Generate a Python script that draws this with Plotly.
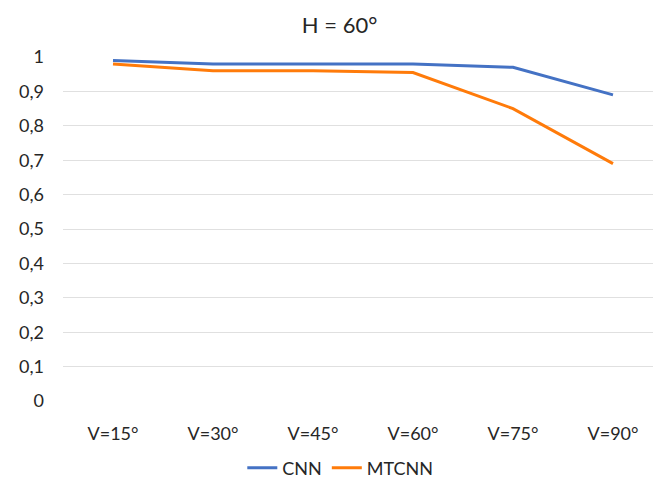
import plotly.graph_objects as go

# Detection rate by vertical angle at a fixed horizontal angle of 60°
categories = ["V=15°", "V=30°", "V=45°", "V=60°", "V=75°", "V=90°"]
cnn = [0.99, 0.98, 0.98, 0.98, 0.97, 0.89]
mtcnn = [0.98, 0.96, 0.96, 0.955, 0.85, 0.69]
y_ticks = [0, 0.1, 0.2, 0.3, 0.4, 0.5, 0.6, 0.7, 0.8, 0.9, 1]

FONT = "Lato"
TEXT = "#262626"

fig = go.Figure()
fig.add_trace(go.Scatter(x=categories, y=cnn, name="CNN", mode="lines",
                         line=dict(color="#4472C4", width=3)))
fig.add_trace(go.Scatter(x=categories, y=mtcnn, name="MTCNN", mode="lines",
                         line=dict(color="#FF7B0A", width=3)))

fig.update_layout(
    width=653, height=479,
    margin=dict(l=63, r=0, t=57, b=78, autoexpand=False),
    paper_bgcolor="white", plot_bgcolor="white",
    separators=", ",
    font=dict(family=FONT, size=18, color=TEXT),
    title=dict(text="H = 60°", x=0.52, xanchor="center", y=0.948, yanchor="middle",
               font=dict(family=FONT, size=22, color=TEXT)),
    showlegend=True,
    legend=dict(orientation="h", x=0.47, xanchor="center", y=-0.195, yanchor="middle",
                font=dict(family=FONT, size=18, color=TEXT),
                itemwidth=30, tracegroupgap=0),
    xaxis=dict(type="category", range=[-0.5, 5.4], showgrid=False, showline=False,
               ticks="", ticklabelstandoff=20, tickfont=dict(size=18), automargin=False),
    yaxis=dict(range=[0, 1], tickvals=y_ticks, showgrid=True, gridcolor="#E0E0E0",
               gridwidth=1, zeroline=False, showline=False, ticks="",
               ticklabelstandoff=18, tickfont=dict(size=18), automargin=False),
)

fig.write_html("out.html")
